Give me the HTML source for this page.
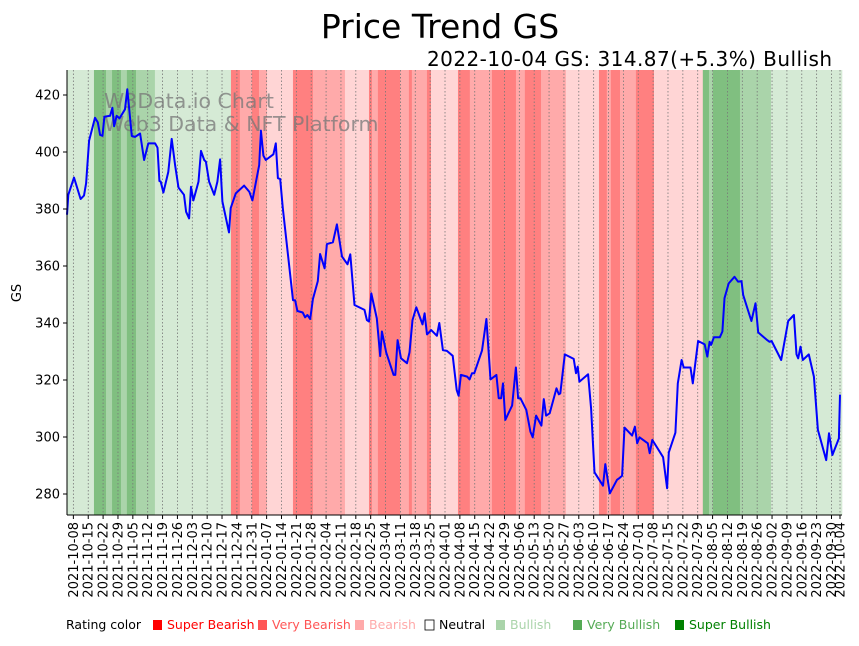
<!DOCTYPE html>
<html><head><meta charset="utf-8">
<style>
html,body{margin:0;padding:0;background:#fff;}
body{width:859px;height:641px;overflow:hidden;font-family:"Liberation Sans","DejaVu Sans",sans-serif;}
</style></head>
<body>
<svg id="chart" width="859" height="641" xmlns="http://www.w3.org/2000/svg" font-family="'DejaVu Sans','Liberation Sans',sans-serif">
  <text x="440" y="38" font-size="33" text-anchor="middle" fill="#000">Price Trend GS</text>
  <text x="832" y="66" font-size="20" text-anchor="end" textLength="405" fill="#000">2022-10-04 GS: 314.87(+5.3%) Bullish</text>
  <g id="bands"></g>
  <g id="grid"></g>
  <text x="104" y="108" font-size="20.5" fill="#777" fill-opacity="0.75">W3Data.io Chart</text>
  <text x="104" y="131" font-size="20.5" fill="#777" fill-opacity="0.75">Web3 Data &amp; NFT Platform</text>
  <path id="line" fill="none" stroke="#0000ff" stroke-width="2" stroke-linejoin="round"></path>
  <g id="yaxis"></g>
  <g id="xaxis"></g>
  <line x1="67" y1="70" x2="67" y2="515" stroke="#000" stroke-width="1"/>
  <line x1="67" y1="515" x2="842" y2="515" stroke="#000" stroke-width="1"/>
  <text transform="translate(21,293) rotate(-90)" font-size="13" text-anchor="middle">GS</text>
  <g font-size="12.5">
    <text x="66" y="629">Rating color</text>
    <rect x="153" y="620" width="9" height="10" fill="#ff0000"/>
    <text x="167" y="629" fill="#ff0000">Super Bearish</text>
    <rect x="258" y="620" width="9" height="10" fill="#ff5555"/>
    <text x="272" y="629" fill="#ff5555">Very Bearish</text>
    <rect x="355" y="620" width="9" height="10" fill="#ffaaaa"/>
    <text x="369" y="629" fill="#ffaaaa">Bearish</text>
    <rect x="425" y="620" width="9" height="10" fill="#fff" stroke="#000" stroke-width="0.8"/>
    <text x="439" y="629" fill="#000">Neutral</text>
    <rect x="496" y="620" width="9" height="10" fill="#aad4aa"/>
    <text x="510" y="629" fill="#aad4aa">Bullish</text>
    <rect x="573" y="620" width="9" height="10" fill="#55aa55"/>
    <text x="587" y="629" fill="#55aa55">Very Bullish</text>
    <rect x="675" y="620" width="9" height="10" fill="#008000"/>
    <text x="689" y="629" fill="#008000">Super Bullish</text>
  </g>
</svg>
<script>
// ---- data ----
const startDate = "2021-10-05";
const priceDays = [0,0.6,3.3,6.4,8,9,10.4,13.2,14.5,15.6,16.7,17.6,20.3,21.4,22.2,23.4,24.7,27.3,28.4,30.5,32,34.4,36.3,38.3,41.5,42.6,43.5,44.1,45.4,47.7,49.3,50.9,52.5,55.1,56.1,57.5,58.4,59.5,61.9,63.1,64.6,65.4,66.9,69.3,70.8,72.1,73.2,76.3,77.1,79.5,83.4,85.9,87.3,90.5,91.3,92.5,93.6,97.2,98.3,99.3,100.4,101.6,106.4,107.4,108.5,111,112.1,113.2,114.5,115.8,118.1,119.2,121.3,122.4,125.2,127.1,129.5,132.1,133.4,135.4,140.1,141.2,142.2,143.3,145.9,147.5,148.3,150.3,153.8,154.6,155.7,157.3,160.1,161.3,162.7,164.5,167.4,168.4,169.5,171.5,174.2,175.3,177,178.9,181.6,183.5,184.4,185.5,188.4,189.6,190.7,191.8,195.4,197.5,199.4,202.2,203.3,204.4,205.3,206.4,209.6,211.4,212.4,213.5,216.3,218.2,219.3,220.9,223.4,224.5,225.6,227.3,230.5,231.6,232.3,234.4,238.6,239.7,240.5,241.3,245.4,246.8,248.4,252.4,253.5,255.6,259,260.3,261.4,262.5,266.1,267.4,268.5,269.6,273.5,274.4,275.6,280.7,282.6,283.4,286.5,287.6,289.4,290.4,293.6,294.7,297.2,300.3,301.5,302.6,303.3,304.6,307.4,308.6,309.6,311.6,314.3,316,317.6,318.4,322.3,324.2,325.5,329.7,330.8,331.8,336.3,339.6,342.3,343.5,344.3,345.4,346.5,349.3,351.7,353.6,357.5,358.8,360.4,363.5,364];
const priceValues = [378,385,391,383.5,384.7,389,404,412,410.4,406,405.7,412.4,412.7,415.5,409,412.7,411.8,415,422,405.6,405.3,406.5,397.2,403,403,401.5,389.8,389.6,385.8,393,404.6,395.4,387.5,385,379,376.7,387.8,383,389.6,400.4,397.2,396.6,389.6,385,389.6,397.4,382.6,371.8,380.3,385.5,388.2,386,383,395.4,407.5,398.7,397.2,399.2,403,390.8,390.5,380.3,348,348,344.2,343.7,342,342.8,341.4,348.4,354.7,364.2,359.2,367.7,368.3,374.6,363.3,360.6,364.1,346.3,344.6,341,340.5,350.4,341.6,328.4,337,329.7,321.8,321.8,334,327.6,325.9,329.7,341,345.5,339.5,343.4,336,337.5,335.5,340,330.5,330.2,328.5,316.5,314.5,321.8,321.2,320.2,322.4,322.4,330.3,341.4,320.2,321.8,313.6,313.6,318.8,306,311,324.4,313.6,313.6,309.5,301.9,299.9,307.5,304,313.3,307.5,308.3,317.1,315,315.3,329,327.4,322.4,324.7,319.4,322,310,287.6,282.9,290.5,280.2,285,285.7,286.4,303.3,300.5,303.6,297.8,299.9,297.8,294.3,299,292.9,282,294.6,301.5,318.8,327,324.4,324.4,318.8,333.7,332.5,328.2,333.4,332.3,335,335,337,348.7,353.9,356.2,354.5,354.7,349.8,340.7,346.9,336.7,334,333.4,333.7,327,340.7,342.8,329,327.6,331.7,327,329,321.2,302.5,291.9,301.3,293.7,299.5,314.87];
// rating bands: start day of each band and its rating (-3..3)
const bandStarts  = [0,12.7,18.4,21.2,25.4,28.2,32.5,41.4,77.2,81.4,87.1,90.4,94.2,106.4,115.8,130.9,142.2,143.6,146.4,156.8,161,162.4,169.5,171.4,184.1,189.7,200.1,211.4,215.6,223.2,234.9,250.5,254.2,256.1,260.4,267.9,276.4,299.4,302.3,304.1,316.9,331.5];
const bandRatings = [1,3,2,3,2,3,2,1,-3,-2,-3,-2,-1,-3,-2,-1,-3,-2,-3,-2,-3,-2,-3,-1,-3,-2,-3,-2,-3,-2,-1,-3,-2,-3,-2,-3,-1,3,2,3,2,1];
const yTicks = [280,300,320,340,360,380,400,420];
const totalDays = 364;

// ---- axes ----
const X0 = 67, X1 = 840, Y0 = 515, Y1 = 70;
const xScale = d => X0 + d * (X1 - X0) / totalDays;
const yScale = v => 494 - (v - 280) * 2.85;
const NS = "http://www.w3.org/2000/svg";
const bandColors = {"-3":"#ff8080","-2":"#ffaaaa","-1":"#ffd5d5","0":"#ffffff","1":"#d5ead5","2":"#aad4aa","3":"#80bf80"};

const bandsG = document.getElementById("bands");
for (let i = 0; i < bandStarts.length; i++) {
  const s = bandStarts[i];
  const xa = xScale(s);
  const xb = i + 1 < bandStarts.length ? xScale(bandStarts[i + 1]) : 842;
  const r = document.createElementNS(NS, "rect");
  
  
  r.setAttribute("x", xa); r.setAttribute("y", Y1);
  r.setAttribute("width", Math.max(0, xb - xa + 0.3)); r.setAttribute("height", Y0 - Y1);
  r.setAttribute("fill", bandColors[String(bandRatings[i])]);
  bandsG.appendChild(r);
}

let d = "";
for (let i = 0; i < priceDays.length; i++) {
  d += (i ? "L" : "M") + xScale(priceDays[i]).toFixed(1) + "," + yScale(priceValues[i]).toFixed(1);
}
document.getElementById("line").setAttribute("d", d);

const yG = document.getElementById("yaxis");
yTicks.forEach(v => {
  const y = yScale(v);
  const t = document.createElementNS(NS, "line");
  
  
  t.setAttribute("x1", X0 - 4); t.setAttribute("x2", X0); t.setAttribute("y1", y); t.setAttribute("y2", y);
  t.setAttribute("stroke", "#000");
  yG.appendChild(t);
  const l = document.createElementNS(NS, "text");
  
  
  l.setAttribute("x", X0 - 7); l.setAttribute("y", y + 4.5);
  l.setAttribute("font-size", "13"); l.setAttribute("text-anchor", "end");
  l.textContent = v;
  yG.appendChild(l);
});

const xTickDays = [];
for (let k = 3; k <= 360; k += 7) xTickDays.push(k);
xTickDays.push(364);
const base = new Date(startDate + "T00:00:00Z");
const xG = document.getElementById("xaxis"), gridG = document.getElementById("grid");
xTickDays.forEach(dd => {
  const x = xScale(dd);
  const dt = new Date(base.getTime() + dd * 86400000);
  const label = dt.toISOString().slice(0, 10);
  const g = document.createElementNS(NS, "line");
  
  
  g.setAttribute("x1", x); g.setAttribute("x2", x); g.setAttribute("y1", Y1); g.setAttribute("y2", Y0);
  g.setAttribute("stroke", "#777"); g.setAttribute("stroke-width", "0.8"); g.setAttribute("stroke-dasharray", "1.5,2");
  gridG.appendChild(g);
  const t = document.createElementNS(NS, "line");
  
  
  t.setAttribute("x1", x); t.setAttribute("x2", x); t.setAttribute("y1", Y0); t.setAttribute("y2", Y0 + 4);
  t.setAttribute("stroke", "#000");
  xG.appendChild(t);
  const l = document.createElementNS(NS, "text");
  
  
  l.setAttribute("transform", "translate(" + (x + 4.5) + "," + (Y0 + 7) + ") rotate(-90)");
  l.setAttribute("font-size", "13"); l.setAttribute("text-anchor", "end");
  l.textContent = label;
  xG.appendChild(l);
});
</script>
</body></html>
